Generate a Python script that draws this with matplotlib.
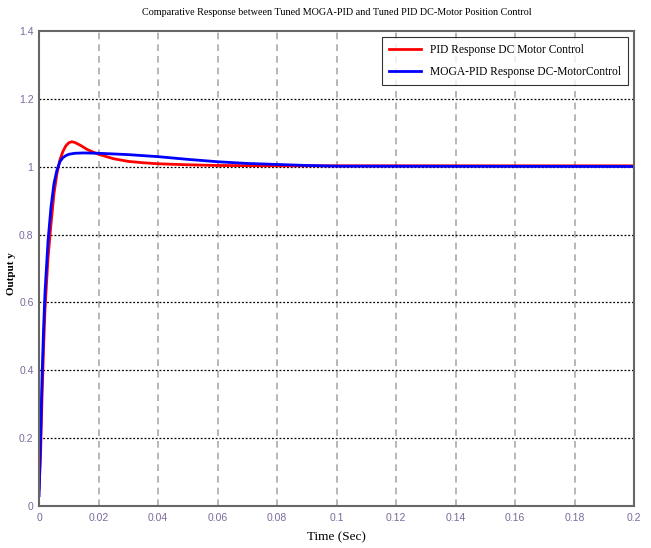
import numpy as np
import matplotlib.pyplot as plt

# time points (sec) and responses
t_pid = [0, 0.0005, 0.001, 0.0015, 0.002, 0.003, 0.004, 0.005, 0.006, 0.007, 0.008,
         0.009, 0.010, 0.011, 0.012, 0.014, 0.016, 0.018, 0.020, 0.025, 0.030,
         0.035, 0.040, 0.050, 0.060, 0.080, 0.100, 0.200]
y_pid = [0.05, 0.15, 0.32, 0.46, 0.58, 0.73, 0.83, 0.92, 0.98, 1.02, 1.045,
         1.062, 1.071, 1.074, 1.072, 1.063, 1.052, 1.044, 1.037, 1.024, 1.016,
         1.012, 1.009, 1.006, 1.004, 1.003, 1.003, 1.003]

t_moga = [0, 0.0005, 0.001, 0.0015, 0.002, 0.003, 0.004, 0.005, 0.006, 0.007, 0.008,
          0.009, 0.010, 0.012, 0.015, 0.020, 0.030, 0.040, 0.050, 0.060, 0.070,
          0.080, 0.090, 0.100, 0.200]
y_moga = [0.03, 0.20, 0.38, 0.52, 0.63, 0.78, 0.88, 0.95, 0.99, 1.015, 1.027,
          1.033, 1.037, 1.040, 1.041, 1.040, 1.036, 1.030, 1.022, 1.015, 1.010,
          1.007, 1.004, 1.002, 1.001]

xticks = np.arange(0, 0.21, 0.02)
yticks = np.arange(0, 1.41, 0.2)
xticklabels = ['0', '0.02', '0.04', '0.06', '0.08', '0.1', '0.12', '0.14', '0.16', '0.18', '0.2']
yticklabels = ['0', '0.2', '0.4', '0.6', '0.8', '1', '1.2', '1.4']

serif = ['Liberation Serif', 'DejaVu Serif']
sans = ['Liberation Sans', 'DejaVu Sans']

fig = plt.figure(figsize=(6.51, 5.48), dpi=100)
ax = fig.add_axes([0.060, 0.077, 0.914, 0.866])

ax.plot(t_pid, y_pid, color='red', lw=2, label='PID Response DC Motor Control')
ax.plot(t_moga, y_moga, color='blue', lw=2, label='MOGA-PID Response DC-MotorControl')

ax.set_xlim(0, 0.2)
ax.set_ylim(0, 1.4)
ax.set_xticks(xticks)
ax.set_yticks(yticks)
ax.set_xticklabels(xticklabels, family=sans, fontsize=7.5, color='#7b6a9c')
ax.set_yticklabels(yticklabels, family=sans, fontsize=7.5, color='#7b6a9c')
ax.tick_params(axis='x', length=0, pad=5)
ax.tick_params(axis='y', length=0, pad=4)

# vertical grid gray dashed, horizontal grid black dotted
for x in xticks[1:-1]:
    ax.axvline(x, color='#aaaaaa', lw=1.2, ls=(0, (4, 3)), zorder=0)
for y in yticks[1:-1]:
    ax.axhline(y, color='black', lw=0.9, ls=(0, (1.5, 1.5)), zorder=0)

for s in ax.spines.values():
    s.set_color('#666666')
    s.set_linewidth(1.5)

ax.set_title('Comparative Response between Tuned MOGA-PID and Tuned PID DC-Motor Position Control',
             family=serif, fontsize=7.3, pad=12)
ax.set_xlabel('Time (Sec)', family=serif, fontsize=9.5, labelpad=6)
ax.set_ylabel('Output y', family=serif, fontsize=8, fontweight='bold', va='center')
ax.yaxis.set_label_coords(-0.046, 0.49)

leg = ax.legend(loc='upper right', prop={'family': serif, 'size': 8.3}, frameon=True,
                fancybox=False, edgecolor='black', handlelength=2.8,
                borderaxespad=0.5, labelspacing=0.9, borderpad=0.6)
leg.get_frame().set_linewidth(0.8)

plt.savefig('out.png', dpi=100)
